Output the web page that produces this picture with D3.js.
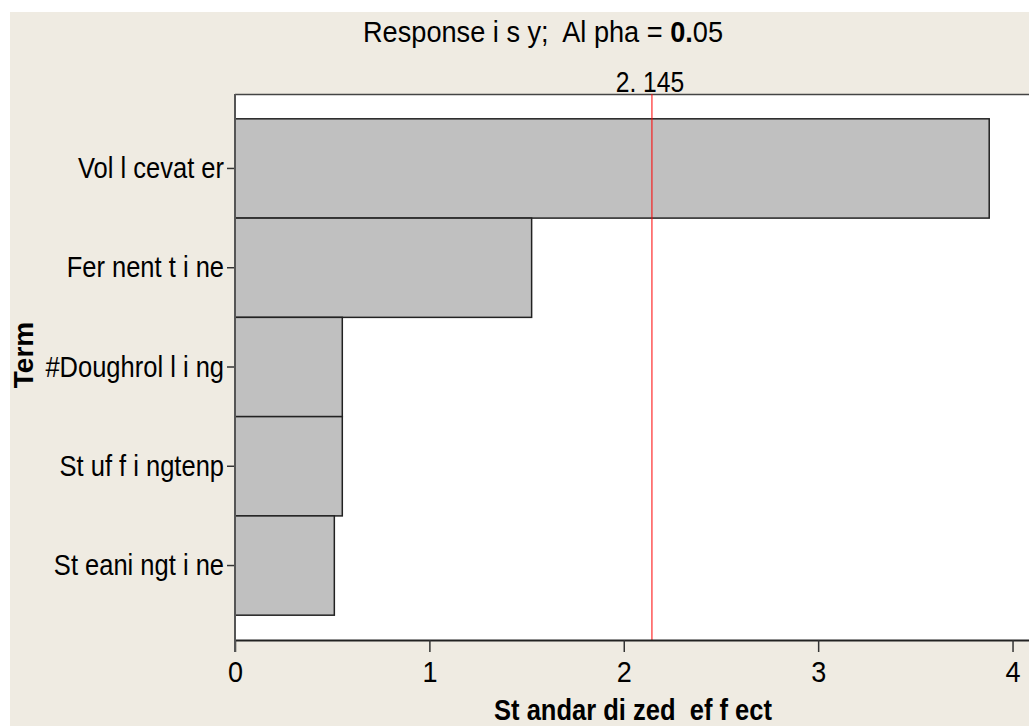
<!DOCTYPE html>
<html>
<head>
<meta charset="utf-8">
<script src="https://cdn.jsdelivr.net/npm/d3@7"></script>
<style>
  body { margin: 0; background: #fff; }
  svg text { font-family: "Liberation Sans", Arial, sans-serif; fill: #000; white-space: pre; }
</style>
</head>
<body>
<svg id="chart" width="1029" height="726"></svg>
<script>
// data
const terms = ["Vol l cevat er", "Fer nent t i ne", "#Doughrol l i ng", "St uf f i ngtenp", "St eani ngt i ne"];
const effects = [3.88, 1.526, 0.552, 0.552, 0.511];
const xTicks = [0, 1, 2, 3, 4];
const refValue = 2.145;
const refLabel = "2. 145";

const W = 1029, H = 726;
const margin = { top: 94, right: -2, bottom: 86, left: 235 };

const svg = d3.select("#chart");

// minitab's font is narrow, so squeeze the glyphs horizontally
function squeeze(sel, k) {
  sel.each(function () {
    const len = this.getComputedTextLength();
    d3.select(this).attr("textLength", len * k).attr("lengthAdjust", "spacingAndGlyphs");
  });
}

// beige figure background
svg.append("rect")
  .attr("x", 10).attr("y", 12)
  .attr("width", W - 10).attr("height", H - 12)
  .attr("fill", "#efebe2");

const x = d3.scaleLinear()
  .domain([0, 4.095])
  .range([margin.left, W - margin.right]);

const y = d3.scaleBand()
  .domain(terms)
  .range([margin.top, H - margin.bottom])
  .paddingInner(0)
  .paddingOuter(0.25);

// plot area
svg.append("rect")
  .attr("x", margin.left).attr("y", margin.top)
  .attr("width", W - margin.left + 5).attr("height", H - margin.bottom - margin.top)
  .attr("fill", "#fff");

// top frame line
svg.append("line")
  .attr("x1", margin.left).attr("x2", W)
  .attr("y1", margin.top + 0.5).attr("y2", margin.top + 0.5)
  .attr("stroke", "#444").attr("stroke-width", 1.5);

// bars
svg.append("g").selectAll("rect")
  .data(terms.map((t, i) => ({ term: t, value: effects[i] })))
  .join("rect")
  .attr("x", x(0))
  .attr("y", d => y(d.term))
  .attr("width", d => x(d.value) - x(0))
  .attr("height", y.bandwidth())
  .attr("fill", "#c0c0c0")
  .attr("stroke", "#222")
  .attr("stroke-width", 1.5);

// reference line
svg.append("line")
  .attr("x1", x(refValue)).attr("x2", x(refValue))
  .attr("y1", margin.top).attr("y2", H - margin.bottom)
  .attr("stroke", "#ff0000").attr("stroke-width", 1);

svg.append("text")
  .attr("x", x(refValue) - 2).attr("y", 92)
  .attr("text-anchor", "middle")
  .attr("font-size", 29)
  .text(refLabel)
  .call(squeeze, 0.85);

// x axis
const xAxis = svg.append("g")
  .attr("transform", `translate(0,${H - margin.bottom})`)
  .call(d3.axisBottom(x).tickValues(xTicks).tickFormat(d3.format("d")).tickSize(12).tickSizeOuter(0).tickPadding(9));
xAxis.select(".domain").attr("stroke", "#222").attr("stroke-width", 2);
xAxis.selectAll(".tick line").attr("stroke", "#333").attr("stroke-width", 1.5);
xAxis.selectAll(".tick text").attr("font-size", 30).attr("font-family", null).call(squeeze, 0.9);

// y axis
const yAxis = svg.append("g")
  .attr("transform", `translate(${margin.left},0)`)
  .call(d3.axisLeft(y).tickSize(8).tickSizeOuter(0).tickPadding(3));
yAxis.select(".domain").remove();
yAxis.selectAll(".tick line").attr("stroke", "#333").attr("stroke-width", 1.5);
yAxis.selectAll(".tick text").attr("font-size", 30).attr("font-family", null).call(squeeze, 0.85);

// left frame line, extending down like a tick
svg.append("line")
  .attr("x1", margin.left).attr("x2", margin.left)
  .attr("y1", margin.top).attr("y2", H - margin.bottom + 12)
  .attr("stroke", "#555").attr("stroke-width", 2);

// title (narrowed with a transform so the bold tspan keeps its place)
const title = svg.append("g")
  .attr("transform", "translate(543,42) scale(0.905,1)")
  .append("text")
  .attr("text-anchor", "middle")
  .attr("font-size", 30);
title.append("tspan").text("Response i s y;  Al pha = ");
title.append("tspan").attr("font-weight", "bold").text("0.");
title.append("tspan").text("05");

// axis titles
svg.append("text")
  .attr("x", 633).attr("y", 720)
  .attr("text-anchor", "middle")
  .attr("font-size", 29)
  .attr("font-weight", "bold")
  .text("St andar di zed  ef f ect")
  .call(squeeze, 0.88);

svg.append("text")
  .attr("transform", "translate(33,355) rotate(-90)")
  .attr("text-anchor", "middle")
  .attr("font-size", 28)
  .attr("font-weight", "bold")
  .text("Term");
</script>
</body>
</html>
